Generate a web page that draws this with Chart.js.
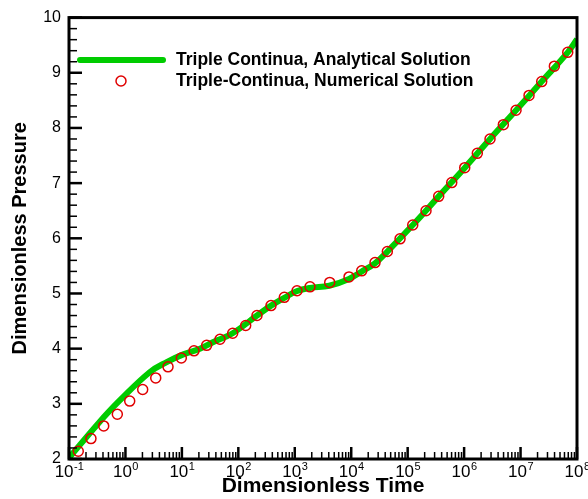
<!DOCTYPE html>
<html>
<head>
<meta charset="utf-8">
<script src="https://cdn.jsdelivr.net/npm/chart.js@4"></script>
<style>
  body { margin: 0; background: #fff; }
</style>
</head>
<body>
<canvas id="myChart" width="588" height="499"></canvas>
<script>
// Numerical solution (circles)
const numTime = [0.146, 0.245, 0.412, 0.718, 1.19, 2.02, 3.44, 5.68, 9.77, 16.4, 27.5, 47.3, 79.4, 135, 214,
    379, 653, 1096, 1862, 4159, 9141, 15350, 26420, 43650, 73280, 123000, 211300, 354800, 604000,
    1.026e6, 1.714e6, 2.877e6, 4.955e6, 8.318e6, 1.413e7, 2.371e7, 3.972e7, 6.855e7];
const numPressure = [2.14, 2.37, 2.60, 2.81, 3.05, 3.26, 3.47, 3.67, 3.83, 3.96, 4.06, 4.17, 4.28, 4.42, 4.60,
    4.78, 4.93, 5.05, 5.12, 5.20, 5.30, 5.41, 5.56, 5.76, 5.99, 6.24, 6.50, 6.76, 7.01,
    7.28, 7.54, 7.80, 8.06, 8.32, 8.59, 8.84, 9.12, 9.37];

// Analytical solution (green curve)
const anaTime = [0.1, 0.33, 0.80, 2.72, 5.38, 10.6, 20.9, 36.1, 79.4, 214, 380, 676, 1072, 1862,
    4074, 8913, 15500, 26300, 43650, 123000, 354800, 1.03e6, 2.88e6, 8.32e6, 2.37e7, 6.86e7, 1e8];
const anaPressure = [2.02, 2.645, 3.065, 3.577, 3.757, 3.896, 4.0, 4.12, 4.28, 4.60, 4.78, 4.93, 5.04, 5.10,
    5.14, 5.26, 5.40, 5.545, 5.76, 6.24, 6.76, 7.28, 7.80, 8.32, 8.84, 9.37, 9.61];

const xMajor = [0.1, 1, 10, 100, 1e3, 1e4, 1e5, 1e6, 1e7, 1e8];
const xExponents = ['-1', '0', '1', '2', '3', '4', '5', '6', '7', '8'];
const yMajor = [2, 3, 4, 5, 6, 7, 8, 9, 10];

const fontFamily = "'Liberation Sans', Arial, Helvetica, sans-serif";
Chart.defaults.color = '#000';
Chart.defaults.font.family = fontFamily;

// Frame, inward ticks, power-of-ten labels and in-plot legend
const framePlugin = {
    id: 'frame',
    afterDraw(chart) {
        const ctx = chart.ctx;
        const area = chart.chartArea;
        const xs = chart.scales.x;
        const ys = chart.scales.y;
        ctx.save();
        ctx.strokeStyle = '#000';
        ctx.lineCap = 'butt';

        // x ticks
        for (let d = 0; d < xMajor.length; d++) {
            const px = xs.getPixelForValue(xMajor[d]);
            ctx.lineWidth = 2.5;
            ctx.beginPath();
            ctx.moveTo(px, area.bottom);
            ctx.lineTo(px, area.bottom - 12);
            ctx.stroke();
            if (d < xMajor.length - 1) {
                ctx.lineWidth = 1.5;
                for (let m = 2; m <= 9; m++) {
                    const mx = xs.getPixelForValue(xMajor[d] * m);
                    ctx.beginPath();
                    ctx.moveTo(mx, area.bottom);
                    ctx.lineTo(mx, area.bottom - 7);
                    ctx.stroke();
                }
            }
        }

        // x tick labels: 10 with a raised exponent
        ctx.fillStyle = '#000';
        ctx.textBaseline = 'alphabetic';
        ctx.textAlign = 'left';
        for (let d = 0; d < xMajor.length; d++) {
            const px = xs.getPixelForValue(xMajor[d]);
            ctx.font = '17px ' + fontFamily;
            const baseW = ctx.measureText('10').width;
            ctx.font = '11px ' + fontFamily;
            const expW = ctx.measureText(xExponents[d]).width;
            const x0 = px - (baseW + expW) / 2;
            ctx.font = '17px ' + fontFamily;
            ctx.fillText('10', x0, area.bottom + 18);
            ctx.font = '11px ' + fontFamily;
            ctx.fillText(xExponents[d], x0 + baseW + 0.5, area.bottom + 11);
        }

        // y ticks
        for (let i = 0; i < yMajor.length; i++) {
            const py = ys.getPixelForValue(yMajor[i]);
            ctx.lineWidth = 2.5;
            ctx.beginPath();
            ctx.moveTo(area.left, py);
            ctx.lineTo(area.left + 13, py);
            ctx.stroke();
            if (i < yMajor.length - 1) {
                ctx.lineWidth = 1.5;
                for (let m = 1; m <= 4; m++) {
                    const my = ys.getPixelForValue(yMajor[i] + m * 0.2);
                    ctx.beginPath();
                    ctx.moveTo(area.left, my);
                    ctx.lineTo(area.left + 8, my);
                    ctx.stroke();
                }
            }
        }

        // frame
        ctx.lineWidth = 3;
        ctx.strokeRect(area.left, area.top, area.right - area.left, area.bottom - area.top);

        // legend
        const ds = chart.data.datasets;
        ctx.lineCap = 'round';
        ctx.strokeStyle = ds[0].borderColor;
        ctx.lineWidth = 6;
        ctx.beginPath();
        ctx.moveTo(80, 60);
        ctx.lineTo(163, 60);
        ctx.stroke();

        ctx.strokeStyle = ds[1].borderColor;
        ctx.lineWidth = 1.5;
        ctx.beginPath();
        ctx.arc(121, 81, 5, 0, Math.PI * 2);
        ctx.stroke();

        ctx.fillStyle = '#000';
        ctx.font = 'bold 17.5px ' + fontFamily;
        ctx.textBaseline = 'middle';
        ctx.textAlign = 'left';
        ctx.fillText(ds[0].label, 176, 60);
        ctx.fillText(ds[1].label, 176, 81);
        ctx.restore();
    }
};

const ctx = document.getElementById('myChart').getContext('2d');

const myChart = new Chart(ctx, {
    type: 'line',
    data: {
        datasets: [{
            label: 'Triple Continua, Analytical Solution',
            data: anaTime.map((t, i) => ({ x: t, y: anaPressure[i] })),
            borderColor: '#00cc00',
            borderWidth: 6,
            pointRadius: 0,
            tension: 0.4,
            fill: false,
            order: 1
        }, {
            label: 'Triple-Continua, Numerical Solution',
            data: numTime.map((t, i) => ({ x: t, y: numPressure[i] })),
            showLine: false,
            borderColor: '#e00000',
            backgroundColor: 'rgba(0,0,0,0)',
            pointRadius: 5,
            pointBorderWidth: 1.5,
            pointHoverRadius: 5,
            order: 0
        }]
    },
    options: {
        responsive: false,
        animation: false,
        layout: { padding: { top: 16, right: 11, left: 0, bottom: 0 } },
        plugins: {
            legend: { display: false },
            tooltip: { enabled: false }
        },
        scales: {
            x: {
                type: 'logarithmic',
                min: 0.1,
                max: 1e8,
                afterBuildTicks: (scale) => {
                    scale.ticks = xMajor.map(v => ({ value: v }));
                },
                afterFit: (scale) => { scale.height = 40; },
                grid: { display: false, drawTicks: false },
                border: { display: false },
                ticks: { display: false },
                title: {
                    display: true,
                    text: 'Dimensionless Time',
                    font: { size: 21, weight: 'bold' },
                    padding: { top: 0, bottom: 0 }
                }
            },
            y: {
                type: 'linear',
                min: 2,
                max: 10,
                afterBuildTicks: (scale) => {
                    scale.ticks = yMajor.map(v => ({ value: v }));
                },
                afterFit: (scale) => { scale.width = 69; },
                grid: { display: false, drawTicks: false },
                border: { display: false },
                ticks: {
                    padding: 8,
                    font: { size: 16 }
                },
                title: {
                    display: true,
                    text: 'Dimensionless Pressure',
                    font: { size: 20, weight: 'bold' },
                    padding: { top: 8, bottom: 0 }
                }
            }
        }
    },
    plugins: [framePlugin]
});
</script>
</body>
</html>
